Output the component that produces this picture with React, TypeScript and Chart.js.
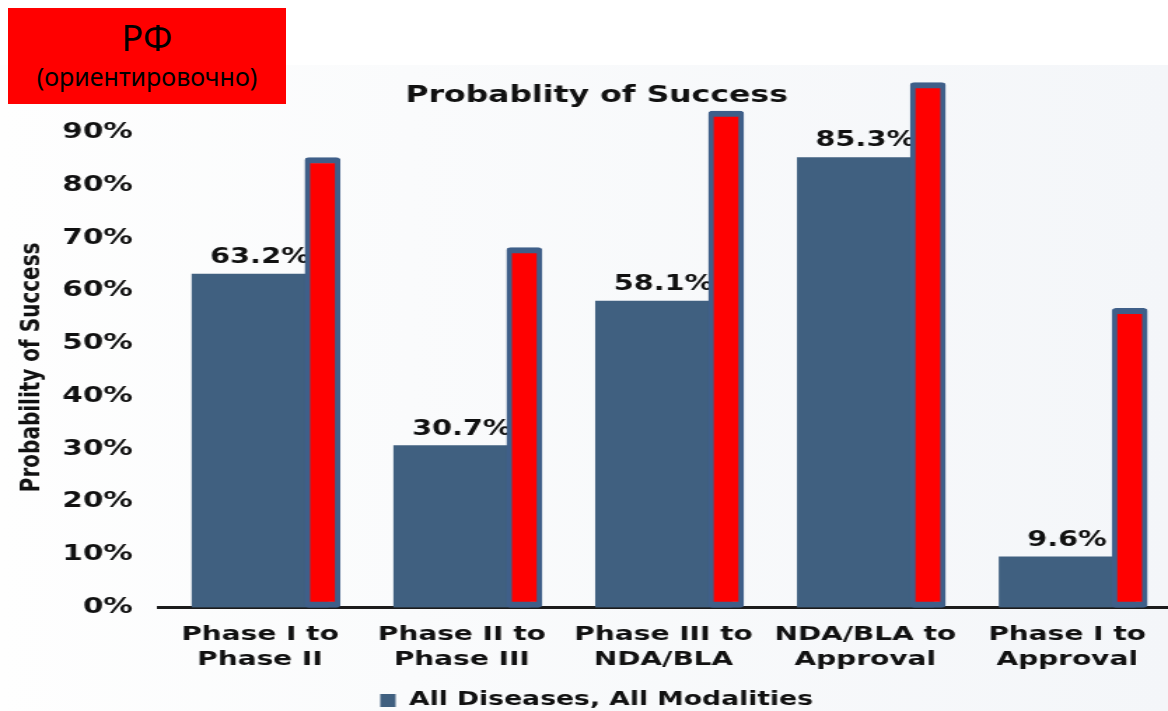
import { useEffect, useRef } from 'react';
import { Chart, registerables } from 'chart.js';

Chart.register(...registerables);

// ---- data ----
const categories: string[][] = [
  ['Phase I to', 'Phase II'],
  ['Phase II to', 'Phase III'],
  ['Phase III to', 'NDA/BLA'],
  ['NDA/BLA to', 'Approval'],
  ['Phase I to', 'Approval'],
];
const allDiseases = [63.2, 30.7, 58.1, 85.3, 9.6];
const rfEstimate = [85.3, 68.2, 94.1, 99.5, 56.7];
const yTickValues = [0, 10, 20, 30, 40, 50, 60, 70, 80, 90];
const seriesLabel = 'All Diseases, All Modalities';

// ---- drawing setup ----
// The chart is laid out on a narrower canvas and stretched horizontally by CSS.
const PAGE_W = 1168;
const CANVAS_W = 834;
const CANVAS_H = 720;
const LEFT_PAD = 18;
const BLUE = '#406080';
const BLUE_EDGE = '#3f5f89';
const INK = '#111111';
const OVERLAY_SHIFT = 0.31; // red overlay bars sit right of each category centre

Chart.defaults.font.family = '"DejaVu Sans", Verdana, sans-serif';
Chart.defaults.color = INK;

const valueLabels = {
  id: 'valueLabels',
  afterDatasetDraw(chart: any, args: any) {
    if (args.index !== 0) return;
    const { ctx } = chart;
    ctx.save();
    ctx.font = 'bold 20.5px "DejaVu Sans", Verdana, sans-serif';
    ctx.fillStyle = INK;
    ctx.textAlign = 'center';
    ctx.textBaseline = 'alphabetic';
    args.meta.data.forEach((bar: any, i: number) => {
      ctx.fillText(`${allDiseases[i].toFixed(1)}%`, bar.x, bar.y - 11);
    });
    ctx.restore();
  },
};

export default function App() {
  const canvasRef = useRef<HTMLCanvasElement | null>(null);

  useEffect(() => {
    if (!canvasRef.current) return;
    const chart = new Chart(canvasRef.current, {
      type: 'bar',
      data: {
        labels: categories,
        datasets: [
          {
            label: seriesLabel,
            data: allDiseases,
            backgroundColor: BLUE,
            borderWidth: 0,
            barThickness: 97,
            grouped: false,
            order: 1,
          } as any,
          {
            label: 'РФ',
            data: rfEstimate.map((v, i) => ({ x: i + OVERLAY_SHIFT, y: v })),
            xAxisID: 'xr',
            backgroundColor: '#ff0000',
            borderColor: BLUE_EDGE,
            borderWidth: { left: 4, right: 4, top: 6, bottom: 6 },
            borderSkipped: false,
            borderRadius: 3,
            barThickness: 25,
            grouped: false,
            clip: false,
            order: 0,
          } as any,
        ],
      },
      options: {
        responsive: false,
        animation: false,
        devicePixelRatio: 1,
        layout: { padding: { top: 85.6, left: LEFT_PAD, right: 0, bottom: 0 } },
        scales: {
          x: {
            type: 'category',
            offset: true,
            grid: { display: false, drawTicks: false },
            border: { display: true, color: '#1c1c1c', width: 3 },
            afterFit: (s: any) => {
              s.height = 73.5;
            },
            ticks: {
              padding: 14.4,
              color: INK,
              maxRotation: 0,
              autoSkip: false,
              font: { size: 20, weight: 'bold', lineHeight: 1.25 },
            },
          },
          xr: {
            type: 'linear',
            display: false,
            offset: false,
            min: -0.5,
            max: 4.5,
          },
          y: {
            min: 0,
            max: 95,
            grid: { display: false, drawTicks: false },
            border: { display: false },
            afterFit: (s: any) => {
              s.width = 113.6 - LEFT_PAD;
            },
            afterBuildTicks: (s: any) => {
              s.ticks = yTickValues.map((v) => ({ value: v }));
            },
            ticks: {
              padding: 18.8,
              color: INK,
              font: { size: 21, weight: 'bold' },
              callback: (v: any) => `${v}%`,
            },
            title: {
              display: true,
              text: 'Probability of Success   ',
              color: INK,
              padding: { top: 11 - LEFT_PAD, bottom: 0 },
              font: { size: 20, weight: 'bold' },
            },
          },
        },
        plugins: {
          title: {
            display: true,
            text: 'Probablity of Success',
            color: INK,
            padding: 0,
            font: { size: 22.5, weight: 'bold', lineHeight: 0.92 },
          },
          legend: {
            position: 'bottom',
            labels: {
              filter: (item: any) => item.datasetIndex === 0,
              boxWidth: 11,
              boxHeight: 13,
              padding: 10,
              color: INK,
              font: { size: 19, weight: 'bold' },
            },
          },
          tooltip: { enabled: false },
        },
      } as any,
      plugins: [valueLabels],
    });
    return () => chart.destroy();
  }, []);

  return (
    <div
      style={{
        position: 'absolute',
        left: 0,
        top: 0,
        width: PAGE_W,
        height: 711,
        overflow: 'hidden',
        background: '#ffffff',
      }}
    >
      <div
        style={{
          position: 'absolute',
          left: 0,
          top: 65,
          width: PAGE_W,
          height: 646,
          background: 'linear-gradient(90deg, #fefefe 0%, #fafbfc 35%, #f4f6f9 100%)',
        }}
      />
      <canvas
        ref={canvasRef}
        width={CANVAS_W}
        height={CANVAS_H}
        style={{ position: 'absolute', left: 0, top: 0, width: PAGE_W, height: CANVAS_H, display: 'block' }}
      />
      <div
        style={{
          position: 'absolute',
          left: 8,
          top: 8,
          width: 278,
          height: 96,
          background: '#ff0000',
          color: '#000',
          fontFamily: '"Noto Sans", sans-serif',
          textAlign: 'center',
        }}
      >
        <div style={{ position: 'absolute', left: 0, right: 0, top: 10, fontSize: 36, lineHeight: '40px' }}>РФ</div>
        <div style={{ position: 'absolute', left: 0, right: 0, top: 53, fontSize: 25, lineHeight: '30px' }}>
          (ориентировочно)
        </div>
      </div>
    </div>
  );
}
